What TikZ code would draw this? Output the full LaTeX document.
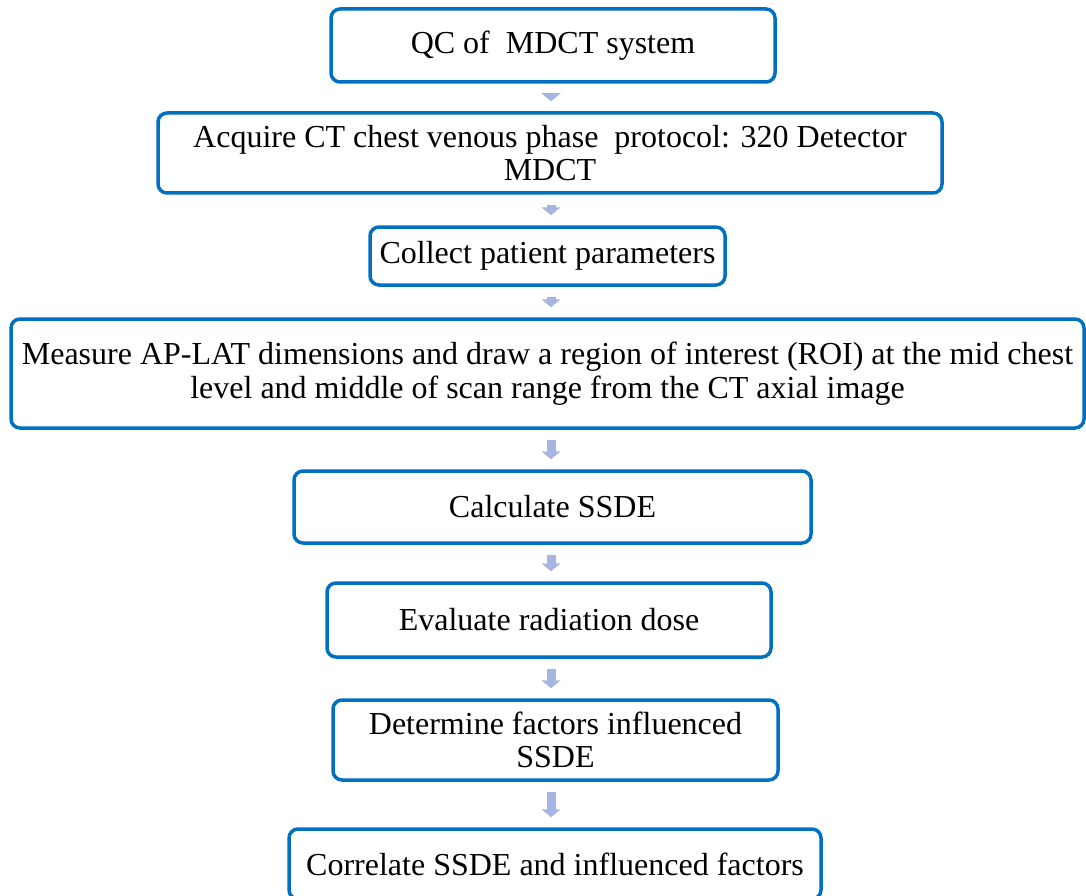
\documentclass[tikz,border=0pt]{standalone}
\usepackage{fontspec}
\setmainfont{Liberation Serif}
\usetikzlibrary{arrows.meta,calc}
\definecolor{boxblue}{RGB}{0,112,192}
\definecolor{arrowfill}{RGB}{166,181,226}
\begin{document}
\begin{tikzpicture}[x=1pt,y=-1pt,
  flowbox/.style={draw=boxblue, line width=3.5pt, rounded corners=9pt, fill=white,
    align=center, inner sep=0pt, font=\fontsize{32}{33.5}\selectfont},
  flowarrow/.style={draw=arrowfill, line width=9pt,
    -{Triangle[width=19pt,length=8pt,fill=arrowfill]},
    shorten <=10pt, shorten >=10pt}]
\useasboundingbox (0,0) rectangle (1086,896);
\clip (0,0) rectangle (1086,896);
\coordinate (ax) at (551,0);
\node[flowbox, minimum width=444pt, minimum height=73pt] (b1) at (553,45.5) {QC of \ MDCT system};
\node[flowbox, minimum width=784pt, minimum height=80pt] (b2) at (550,153) {Acquire CT chest venous phase \ protocol: 320 Detector\\MDCT};
\node[flowbox, minimum width=355pt, minimum height=58pt] (b3) at (547.5,256) {Collect patient parameters};
\node[flowbox, minimum width=1073pt, minimum height=109pt] (b4) at (547.5,373.5) {Measure AP-LAT dimensions and draw a region of interest (ROI) at the mid chest\\level and middle of scan range from the CT axial image};
\node[flowbox, minimum width=517pt, minimum height=72pt] (b5) at (552.5,507) {Calculate SSDE};
\node[flowbox, minimum width=444pt, minimum height=74pt] (b6) at (549,620) {Evaluate radiation dose};
\node[flowbox, minimum width=445pt, minimum height=80pt] (b7) at (555.5,740) {Determine factors influenced\\SSDE};
\node[flowbox, minimum width=532pt, minimum height=70pt] (b8) at (555,864) {Correlate SSDE and influenced factors};
\draw[flowarrow] (b1.south -| ax) -- (b2.north -| ax);
\draw[flowarrow] (b2.south -| ax) -- (b3.north -| ax);
\draw[flowarrow] (b3.south -| ax) -- (b4.north -| ax);
\draw[flowarrow] (b4.south -| ax) -- (b5.north -| ax);
\draw[flowarrow] (b5.south -| ax) -- (b6.north -| ax);
\draw[flowarrow] (b6.south -| ax) -- (b7.north -| ax);
\draw[flowarrow] (b7.south -| ax) -- (b8.north -| ax);
\end{tikzpicture}
\end{document}
